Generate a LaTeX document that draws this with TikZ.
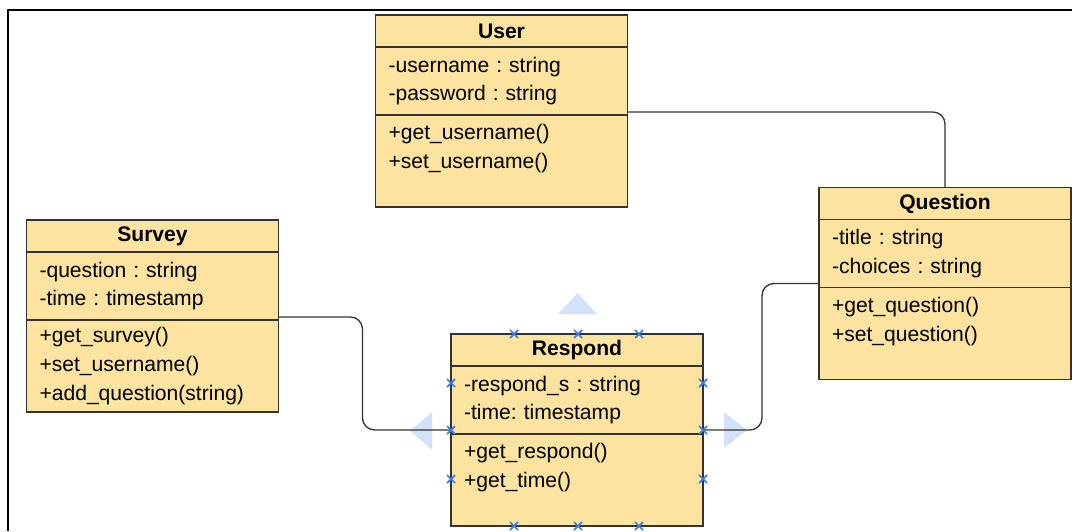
\documentclass[tikz,border=0pt]{standalone}
\usepackage{fontspec}
\setmainfont{Liberation Sans}
\usetikzlibrary{positioning}
\definecolor{classfill}{RGB}{252,227,160}
\definecolor{classline}{RGB}{51,51,51}
\definecolor{handle}{RGB}{60,126,232}
\definecolor{handlefill}{RGB}{210,226,250}
\tikzset{
  head/.style  = {rectangle, draw=classline, fill=classfill, line width=0.8pt, anchor=north,
                  minimum width=5.04cm, minimum height=0.64cm, inner sep=0pt, outer sep=0pt,
                  font=\fontsize{12}{16.4}\selectfont\bfseries},
  attrs/.style = {rectangle, draw=classline, fill=classfill, line width=0.8pt,
                  text width=4.52cm, inner xsep=0.26cm, inner ysep=0pt, outer sep=0pt,
                  minimum height=1.36cm, align=left, font=\fontsize{12}{16.4}\selectfont},
  ops/.style   = {attrs, minimum height=1.84cm},
  link/.style  = {draw=classline, line width=0.75pt, rounded corners=0.24cm},
  xmark/.style = {draw=handle, line width=1pt},
  hint/.style  = {fill=handlefill, draw=none},
}

\begin{document}
\frenchspacing
\begin{tikzpicture}[x=0.02cm, y=-0.02cm]
      \useasboundingbox (0,0) rectangle (1072,531);
      \draw[line width=1.1pt] (8,531) -- (8,10) -- (1072,10);

      % selection hints
      \fill[hint] (558,314) -- (597,314) -- (577.5,293) -- cycle;
      \fill[hint] (432,412) -- (432,450) -- (410,431) -- cycle;
      \fill[hint] (724,412) -- (724,448) -- (747,430) -- cycle;

      \node[head] (user) at (501.5,15) {User};
      \node[attrs, below=0pt of user] (user-a) {-username : string\\-password : string};
      \node[ops, below=0pt of user-a] (user-m) {+get\_username()\\+set\_username()\\\mbox{}};

      \node[head] (question) at (945,187.5) {Question};
      \node[attrs, below=0pt of question] (question-a) {-title : string\\-choices : string};
      \node[ops, below=0pt of question-a] (question-m) {+get\_question()\\+set\_question()\\\mbox{}};

      \node[head] (survey) at (152.5,220) {Survey};
      \node[attrs, below=0pt of survey] (survey-a) {-question : string\\-time : timestamp};
      \node[ops, below=0pt of survey-a] (survey-m) {+get\_survey()\\+set\_username()\\+add\_question(string)};

      \node[head] (respond) at (577,334) {Respond};
      \node[attrs, below=0pt of respond] (respond-a) {-respond\_s : string\\-time: timestamp};
      \node[ops, below=0pt of respond-a] (respond-m) {+get\_respond()\\+get\_time()\\\mbox{}};

      \draw[link] ([yshift=0.06cm]user-a.south east) -| (question.north);
      \draw[link] ([yshift=0.06cm]survey-a.south east) -- ++(84,0) |- ([yshift=0.08cm]respond-a.south west);
      \draw[link] ([yshift=0.08cm]respond-a.south east) -- ++(59,0) |- ([yshift=0.08cm]question-a.south west);

      \foreach \mx/\my in {514/334, 578/334, 639/334, 514/526, 578/526, 639/526,
                           451/383, 451/430, 451/479, 703/383, 703/430, 703/479}
        \draw[xmark] (\mx,\my) +(-4,-4) -- +(4,4) +(-4,4) -- +(4,-4);
    \end{tikzpicture}
\end{document}
